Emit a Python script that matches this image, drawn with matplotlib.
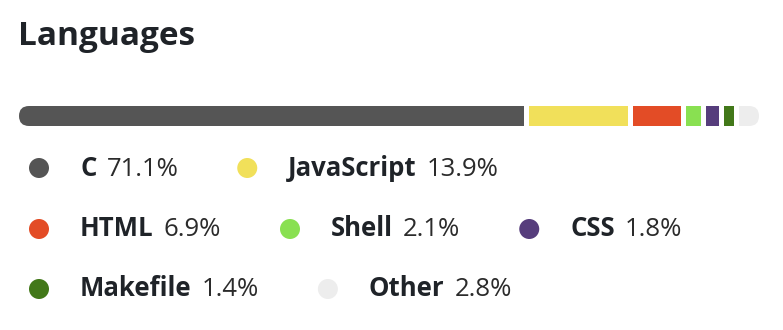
import matplotlib
matplotlib.use('Agg')
import matplotlib.pyplot as plt
from matplotlib.patches import FancyBboxPatch, Circle
import numpy as np

# data
languages = ['C', 'JavaScript', 'HTML', 'Shell', 'CSS', 'Makefile', 'Other']
percents = [71.1, 13.9, 6.9, 2.1, 1.8, 1.4, 2.8]
colors = ['#555555', '#f1e05a', '#e34c26', '#89e051', '#563d7c', '#427819', '#ededed']

W, H = 783, 330
fig = plt.figure(figsize=(W / 100, H / 100), dpi=100)
fig.patch.set_facecolor('white')

font = 'Open Sans'
dark = '#1f2328'

# title
fig.text(18 / W, 1 - 45 / H, 'Languages', fontsize=24, fontweight='bold',
         family=font, color=dark, ha='left', va='baseline')

# bar (pixel units inside the bar axes)
bar_left, bar_top, bar_w, bar_h = 19, 106, 740, 20
gap = 5
ax = fig.add_axes([bar_left / W, 1 - (bar_top + bar_h) / H, bar_w / W, bar_h / H])
ax.set_xlim(0, bar_w)
ax.set_ylim(0, bar_h)
ax.axis('off')

scale = (bar_w - gap * (len(percents) - 1)) / 100.0
widths = np.array(percents) * scale
lefts = np.concatenate([[0], np.cumsum(widths + gap)[:-1]])
clip = FancyBboxPatch((0, 0), bar_w, bar_h, boxstyle='round,pad=0,rounding_size=10',
                      transform=ax.transData, facecolor='none', edgecolor='none')
ax.add_patch(clip)
bars = ax.barh(bar_h / 2, widths, left=lefts, height=bar_h, color=colors, linewidth=0)
for b in bars:
    b.set_clip_path(clip)

# legend, flow layout with wrapping
lax = fig.add_axes([0, 0, 1, 1])
lax.set_xlim(0, W)
lax.set_ylim(H, 0)
lax.axis('off')
fig.canvas.draw()
r = fig.canvas.get_renderer()

x0 = 29          # left edge of first dot
row_y = [168, 229, 289]
dot_d = 20
text_off = 51    # from dot left edge to text start
name_gap = 10
item_gap = 59
max_right = 740
fs = 18.5

row = 0
x = x0
for name, pct, col in zip(languages, percents, colors):
    t1 = lax.text(0, 0, name, fontsize=fs, fontweight='bold', family=font, color=dark,
                  ha='left', va='baseline')
    t2 = lax.text(0, 0, '%.1f%%' % pct, fontsize=fs, family=font, color='#2b2b2b',
                  ha='left', va='baseline')
    w1 = t1.get_window_extent(r).width
    w2 = t2.get_window_extent(r).width
    item_w = text_off + w1 + name_gap + w2
    if x != x0 and x + item_w > max_right:
        row += 1
        x = x0
    y = row_y[row]
    lax.add_patch(Circle((x + dot_d / 2, y), dot_d / 2, color=col, linewidth=0))
    t1.set_position((x + text_off, y + 7.5))
    t2.set_position((x + text_off + w1 + name_gap, y + 7.5))
    x += item_w + item_gap

fig.savefig('out.png', dpi=100, facecolor='white')
